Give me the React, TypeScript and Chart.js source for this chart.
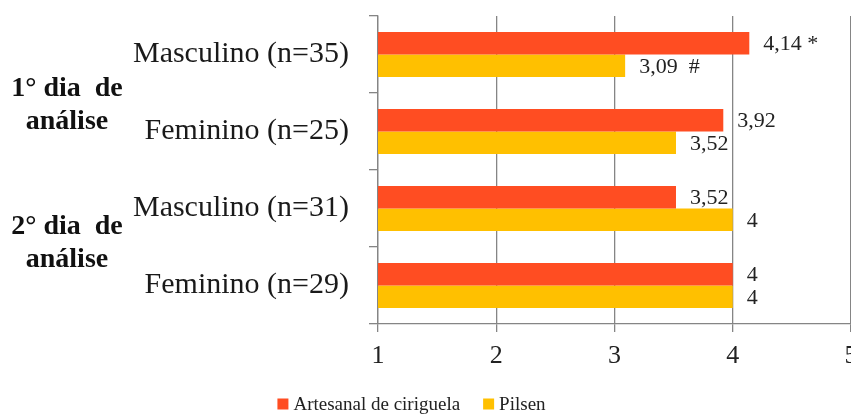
import React, { useEffect, useRef } from "react";
import { Chart, registerables } from "chart.js";

Chart.register(...registerables);

// Chart data
const categories = ["Masculino (n=35)", "Feminino (n=25)", "Masculino (n=31)", "Feminino (n=29)"];
const seriesNames = ["Artesanal de ciriguela", "Pilsen"];
const artesanal = [4.14, 3.92, 3.52, 4];
const pilsen = [3.09, 3.52, 4, 4];
const artesanalMarks = [" *", "", "", ""];
const pilsenMarks = ["  #", "", "", ""];
const groupLabels = [
  ["1° dia  de", "análise"],
  ["2° dia  de", "análise"],
];
const xMin = 1;
const xMax = 5;

const COLORS = ["#FF4D22", "#FFC000"];
const SERIF = "'Liberation Serif', 'Times New Roman', serif";
const GRID = "#858585";

const fmt = (v: number) => String(v).replace(".", ",");

// Value text to the right of each bar, with its significance mark
const valueLabels = {
  id: "valueLabels",
  afterDatasetsDraw(chart: any) {
    const ctx = chart.ctx;
    const marks = [artesanalMarks, pilsenMarks];
    ctx.save();
    ctx.font = `22px ${SERIF}`;
    ctx.fillStyle = "#222";
    ctx.textAlign = "left";
    ctx.textBaseline = "middle";
    chart.data.datasets.forEach((ds: any, di: number) => {
      const meta = chart.getDatasetMeta(di);
      meta.data.forEach((bar: any, i: number) => {
        ctx.fillText(fmt(ds.data[i]) + (marks[di][i] || ""), bar.x + 14, bar.y + 1);
      });
    });
    ctx.restore();
  },
};

// Bold day labels, each spanning two categories of the y axis
const dayLabels = {
  id: "dayLabels",
  afterDraw(chart: any) {
    const ctx = chart.ctx;
    const y = chart.scales.y;
    const shift = [3, -13];
    ctx.save();
    ctx.font = `bold 28px ${SERIF}`;
    ctx.fillStyle = "#111";
    ctx.textAlign = "center";
    ctx.textBaseline = "alphabetic";
    groupLabels.forEach((lines, g) => {
      const mid = (y.getPixelForValue(2 * g) + y.getPixelForValue(2 * g + 1)) / 2;
      lines.forEach((line, k) => {
        ctx.fillText(line, 67, mid + shift[g] + k * 33);
      });
    });
    ctx.restore();
  },
};

// Legend row under the x axis
const bottomLegend = {
  id: "bottomLegend",
  afterDraw(chart: any) {
    const ctx = chart.ctx;
    const box = 11;
    const gap = 5;
    const itemGap = 23;
    const cy = 404;
    ctx.save();
    ctx.font = `19px ${SERIF}`;
    ctx.textBaseline = "middle";
    ctx.textAlign = "left";
    const items = chart.data.datasets.map((ds: any) => ({
      label: ds.label,
      color: ds.backgroundColor,
      w: box + gap + ctx.measureText(ds.label).width,
    }));
    const total = items.reduce((s: number, it: any) => s + it.w, 0) + itemGap * (items.length - 1);
    let x = 411.5 - total / 2;
    items.forEach((it: any) => {
      ctx.fillStyle = it.color;
      ctx.fillRect(x, cy - box / 2, box, box);
      ctx.fillStyle = "#222";
      ctx.fillText(it.label, x + box + gap, cy + 1);
      x += it.w + itemGap;
    });
    ctx.restore();
  },
};

export default function App() {
  const canvasRef = useRef<HTMLCanvasElement | null>(null);

  useEffect(() => {
    if (!canvasRef.current) return;
    const chart = new Chart(canvasRef.current, {
      type: "bar",
      data: {
        labels: categories,
        datasets: [
          {
            label: seriesNames[0],
            data: artesanal,
            backgroundColor: COLORS[0],
            borderWidth: 0,
          },
          {
            label: seriesNames[1],
            data: pilsen,
            backgroundColor: COLORS[1],
            borderWidth: 0,
          },
        ],
      },
      options: {
        indexAxis: "y",
        responsive: false,
        animation: false,
        layout: {
          autoPadding: false,
          padding: { top: 16, left: 0, right: 0, bottom: 0 },
        },
        datasets: {
          bar: { barPercentage: 1, categoryPercentage: 0.585 },
        },
        plugins: {
          legend: { display: false },
          tooltip: { enabled: false },
        },
        scales: {
          x: {
            min: xMin,
            max: xMax,
            ticks: {
              stepSize: 1,
              padding: 9,
              color: "#222",
              font: { family: SERIF, size: 26 },
            },
            grid: { color: GRID, lineWidth: 1.3, tickLength: 8 },
            border: { color: GRID, width: 1.3 },
            afterFit(scale: any) {
              // the axis runs to the right edge; the last tick label may be cut
              scale.height = 93;
              scale.paddingLeft = 0;
              scale.paddingRight = 0;
            },
          },
          y: {
            ticks: {
              padding: 20,
              color: "#1a1a1a",
              font: { family: SERIF, size: 30 },
            },
            grid: {
              offset: true,
              drawOnChartArea: false,
              color: GRID,
              lineWidth: 1.3,
              tickLength: 9,
            },
            border: { color: GRID, width: 1.3 },
            afterFit(scale: any) {
              scale.width = 378;
              scale.paddingTop = 0;
              scale.paddingBottom = 0;
            },
          },
        },
      },
      plugins: [valueLabels, dayLabels, bottomLegend],
    });
    return () => chart.destroy();
  }, []);

  return (
    <div style={{ position: "fixed", left: 0, top: 0, width: 851, height: 417, background: "#fff", overflow: "hidden" }}>
      <canvas ref={canvasRef} width={851} height={417} />
    </div>
  );
}
